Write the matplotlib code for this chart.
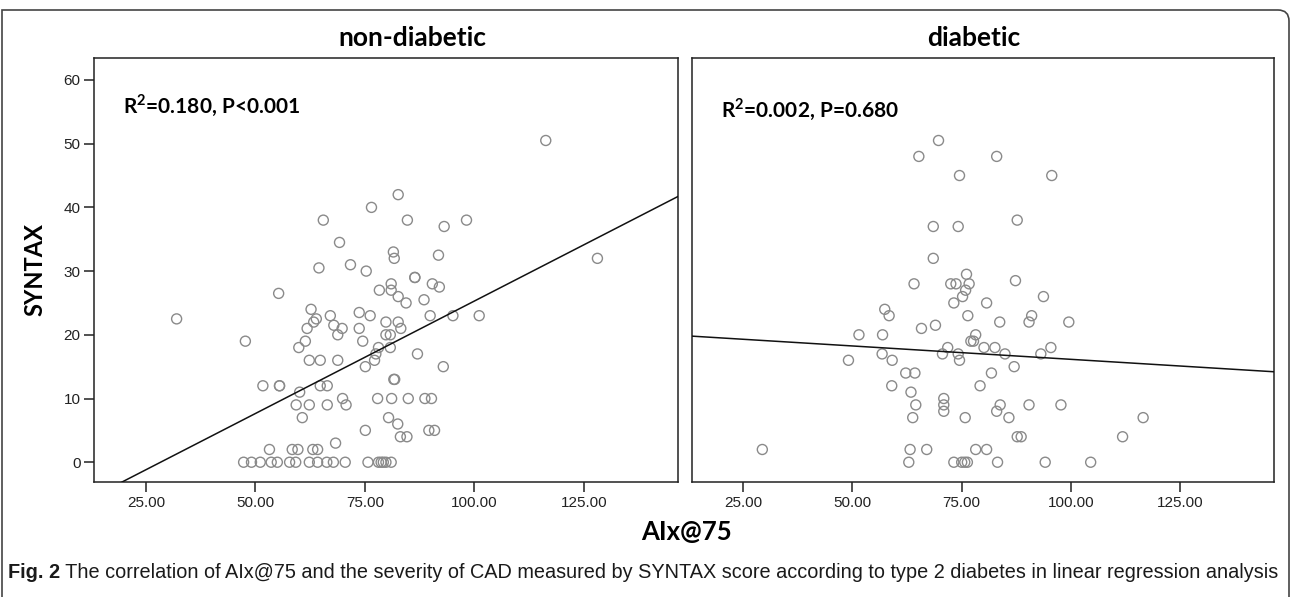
import matplotlib
matplotlib.use("Agg")
import matplotlib.pyplot as plt
from matplotlib.path import Path
from matplotlib.patches import PathPatch
import numpy as np

plt.rcParams["font.family"] = ["Liberation Sans", "DejaVu Sans"]
plt.rcParams["mathtext.fontset"] = "custom"
plt.rcParams["mathtext.rm"] = "Lato"
plt.rcParams["mathtext.bf"] = "Lato:bold"

# non-diabetic group: AIx@75 vs SYNTAX score
left_aix = [47.3, 49.1, 51.1, 53.6, 55.0, 57.8, 59.2, 62.3, 64.2, 66.3, 67.8, 70.5,
            75.7, 78.1, 78.7, 79.2, 79.8, 81.0,
            53.2, 58.4, 59.7, 63.1, 64.2, 68.3,
            83.1, 84.6, 75.1, 89.6, 90.9, 82.5, 60.7, 80.4,
            59.3, 62.3, 66.4, 70.7,
            69.9, 77.9, 81.1, 84.9, 88.7, 90.2,
            60.1,
            51.7, 55.5, 55.5, 64.8, 66.4,
            81.6, 81.8,
            75.1, 92.9,
            62.3, 64.8, 68.8, 77.2,
            77.5, 87.0,
            59.9, 78.1, 80.8,
            47.7, 61.4, 74.5,
            68.8, 79.8, 80.8,
            61.8, 69.8, 73.7, 83.2, 67.9,
            63.3, 79.8, 82.6, 32.0, 63.9,
            67.1, 76.2, 89.9, 95.1, 101.1, 73.7,
            62.7, 84.4, 88.5, 82.6, 55.3,
            78.3, 81.0, 92.0, 81.0, 90.4,
            86.4, 86.4, 75.3, 64.5, 71.7,
            81.7, 128.1, 91.8, 81.5, 69.2,
            93.1, 65.5, 84.7, 98.2, 76.5, 82.6, 116.3]
left_syntax = [0, 0, 0, 0, 0, 0, 0, 0, 0, 0, 0, 0,
               0, 0, 0, 0, 0, 0,
               2, 2, 2, 2, 2, 3,
               4, 4, 5, 5, 5, 6, 7, 7,
               9, 9, 9, 9,
               10, 10, 10, 10, 10, 10,
               11,
               12, 12, 12, 12, 12,
               13, 13,
               15, 15,
               16, 16, 16, 16,
               17, 17,
               18, 18, 18,
               19, 19, 19,
               20, 20, 20,
               21, 21, 21, 21, 21.5,
               22, 22, 22, 22.5, 22.5,
               23, 23, 23, 23, 23, 23.5,
               24, 25, 25.5, 26, 26.5,
               27, 27, 27.5, 28, 28,
               29, 29, 30, 30.5, 31,
               32, 32, 32.5, 33, 34.5,
               37, 38, 38, 38, 40, 42, 50.5]

# diabetic group
right_aix = [69.7, 65.2, 83.0, 74.5, 95.6, 87.7, 68.5, 74.2, 68.5, 76.1, 87.3,
             64.1, 72.5, 73.7, 76.7, 75.9, 75.2, 93.7, 73.2, 80.7, 57.4,
             58.4, 76.4, 91.0, 83.7, 90.4, 99.5, 69.0, 65.8,
             51.5, 56.9, 78.2, 77.1, 77.7,
             71.8, 80.1, 82.6, 95.4,
             56.8, 70.6, 74.2, 84.9, 93.1,
             49.1, 59.1, 74.5,
             87.0, 62.2, 64.3, 81.8, 59.0, 79.2, 63.4, 70.9,
             64.5, 70.9, 83.8, 90.4, 97.7, 70.9, 83.0,
             63.8, 75.8, 85.8, 116.5,
             87.7, 88.6, 111.8,
             29.4, 63.2, 67.0, 78.2, 80.7,
             62.9, 73.2, 75.0, 75.7, 76.3, 83.2, 94.1, 104.5]
right_syntax = [50.5, 48, 48, 45, 45, 38, 37, 37, 32, 29.5, 28.5,
                28, 28, 28, 28, 27, 26, 26, 25, 25, 24,
                23, 23, 23, 22, 22, 22, 21.5, 21,
                20, 20, 20, 19, 19,
                18, 18, 18, 18,
                17, 17, 17, 17, 17,
                16, 16, 16,
                15, 14, 14, 14, 12, 12, 11, 10,
                9, 9, 9, 9, 9, 8, 8,
                7, 7, 7, 7,
                4, 4, 4,
                2, 2, 2, 2, 2,
                0, 0, 0, 0, 0, 0, 0, 0]

# fitted lines as drawn in the figure (intercept, slope)
left_fit = (-10.0, 0.353)
right_fit = (20.35, -0.042)

panel_titles = ["non-diabetic", "diabetic"]
notes = [r"R$^{\mathbf{2}}$=0.180, P<0.001", r"R$^{\mathbf{2}}$=0.002, P=0.680"]
x_ticks = [25, 50, 75, 100, 125]
x_ticklabels = ["25.00", "50.00", "75.00", "100.00", "125.00"]
y_ticks = [0, 10, 20, 30, 40, 50, 60]

W, H = 1292, 597
fig = plt.figure(figsize=(W / 100, H / 100), dpi=100)

bot = 1 - 482.3 / H
hgt = (482.3 - 58.3) / H
ax1 = fig.add_axes([94.3 / W, bot, (678 - 94.3) / W, hgt])
ax2 = fig.add_axes([691.5 / W, bot, (1274.3 - 691.5) / W, hgt])

xlim = (13.2, 146.5)
ylim = (-3.15, 63.4)
panels = [(ax1, left_aix, left_syntax, left_fit), (ax2, right_aix, right_syntax, right_fit)]
for i, (ax, xs, ys, fit) in enumerate(panels):
    ax.scatter(xs, ys, s=52, facecolors="none", edgecolors="#8a8a8a", linewidths=1.0, zorder=2)
    xl = np.array(xlim)
    ax.plot(xl, fit[0] + fit[1] * xl, color="#111111", lw=1.1, zorder=3)
    ax.set_xlim(xlim)
    ax.set_ylim(ylim)
    ax.set_xticks(x_ticks)
    ax.set_xticklabels(x_ticklabels)
    ax.tick_params(direction="out", length=7, width=1.1, labelsize=11, colors="#222222", pad=3)
    for sp in ax.spines.values():
        sp.set_linewidth(1.1)
        sp.set_color("#222222")
    ax.text(0.05, 0.873 - 0.01 * i, notes[i], transform=ax.transAxes, fontsize=15,
            fontweight="bold", family="Lato", va="baseline", ha="left")

ax1.set_yticks(y_ticks)
ax2.set_yticks([])

# panel titles
fig.text(412 / W, 1 - 46 / H, panel_titles[0], ha="center", va="baseline",
         fontsize=19, fontweight="bold", family="Lato")
fig.text(974 / W, 1 - 46 / H, panel_titles[1], ha="center", va="baseline",
         fontsize=19, fontweight="bold", family="Lato")

fig.text(35 / W, 1 - 270 / H, "SYNTAX", rotation=90, ha="center", va="center",
         fontsize=17, fontweight="bold", family="Lato")
fig.text(687 / W, 1 - 532 / H, "AIx@75", ha="center", va="center",
         fontsize=18.5, fontweight="bold", family="Lato")

# caption
cap_font = ["Liberation Sans", "DejaVu Sans"]
t1 = fig.text(8 / W, 1 - 578 / H, "Fig. 2", ha="left", va="baseline",
              fontsize=14.3, fontweight="bold", family=cap_font, color="#1a1a1a")
fig.add_artist(matplotlib.text.Annotation(
    " The correlation of AIx@75 and the severity of CAD measured by SYNTAX score "
    "according to type 2 diabetes in linear regression analysis",
    xy=(1, 0), xycoords=t1, ha="left", va="bottom", fontsize=14.3,
    family=cap_font, color="#1a1a1a"))

# rounded frame around the figure
verts = [(2 / W, -0.02), (2 / W, 1 - 10 / H), (1278 / W, 1 - 10 / H),
         (1289 / W, 1 - 10 / H), (1289 / W, 1 - 21 / H), (1289 / W, -0.02)]
codes = [Path.MOVETO, Path.LINETO, Path.LINETO, Path.CURVE3, Path.CURVE3, Path.LINETO]
fig.add_artist(PathPatch(Path(verts, codes), transform=fig.transFigure,
                         fill=False, edgecolor="#444444", lw=1.2))

fig.savefig("out.png", dpi=100)
